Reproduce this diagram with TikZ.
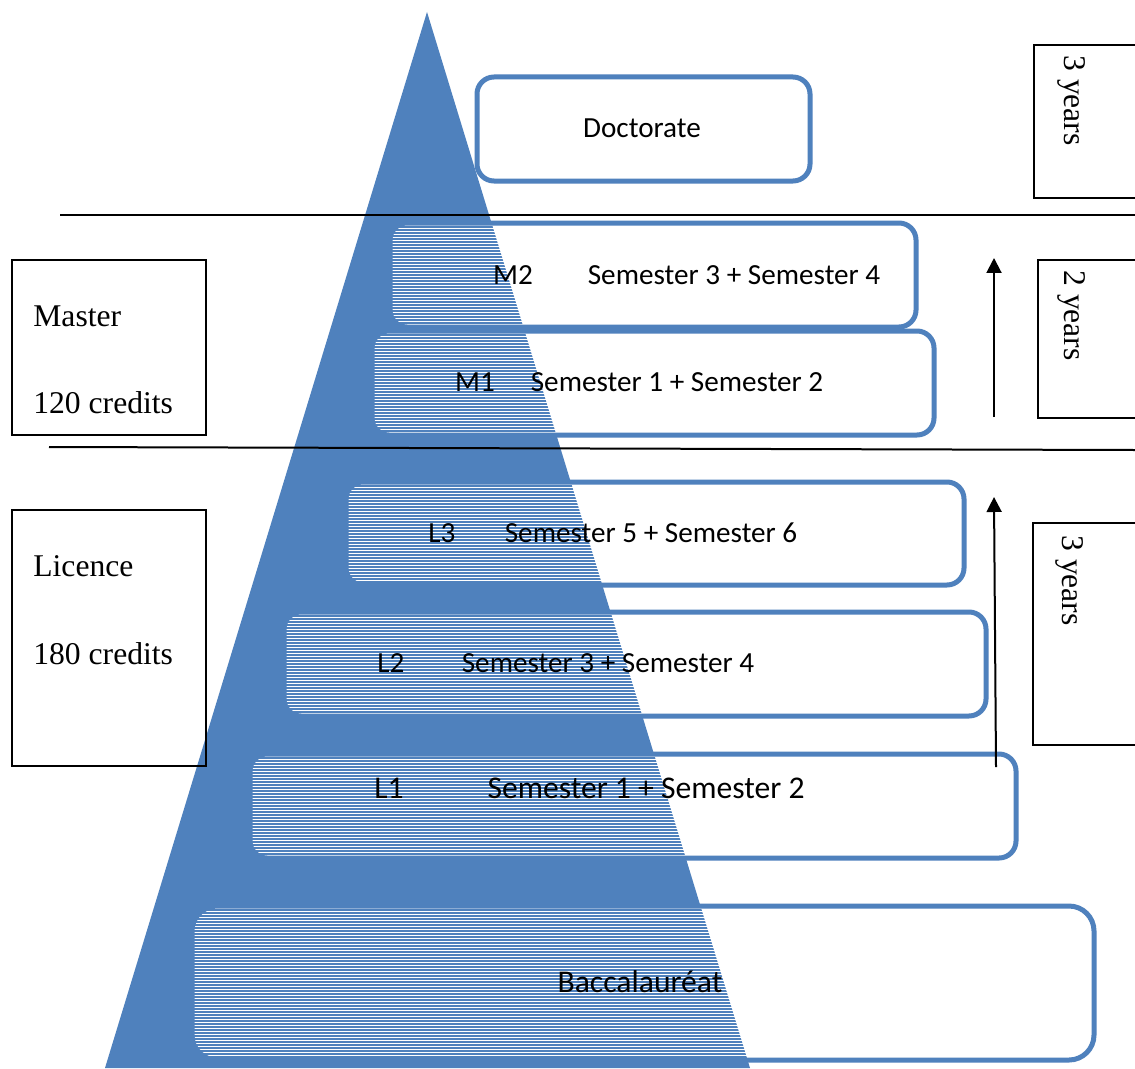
\documentclass[tikz,border=0pt]{standalone}
\usepackage{fontspec}
\setmainfont{Liberation Serif}
\newfontfamily\boxfont{Carlito}
\usetikzlibrary{arrows.meta}
\definecolor{lmdblue}{HTML}{4F81BD}

\tikzset{
  pyramid/.style={fill=lmdblue, draw=none},
  levelframe/.style={draw=lmdblue, line width=0.1cm},
  stripe/.style={draw=lmdblue, line width=0.042cm},
  sidebox/.style={draw=black, line width=0.03cm},
  divider/.style={draw=black, line width=0.04cm},
  uparrow/.style={draw=black, line width=0.04cm, -{Triangle[length=0.3cm,width=0.3cm]}},
  boxtext/.style={font=\boxfont\fontsize{16.6}{20}\selectfont, inner sep=0pt},
  bigboxtext/.style={font=\boxfont\fontsize{18}{22}\selectfont, inner sep=0pt},
  sidetext/.style={font=\fontsize{18}{22}\selectfont, inner sep=0pt, anchor=west},
  yeartext/.style={font=\fontsize{18}{22}\selectfont, inner sep=0pt, rotate=-90, anchor=west},
}

% rounded level box: white inside, hatched where it lies over the pyramid
% #1 name, #2 x1, #3 y1, #4 x2, #5 y2, #6 corner radius
\newcommand{\levelbox}[6]{%
  \fill[white, rounded corners=#6] (#2,#3) rectangle (#4,#5);
  \begin{scope}
    \clip (427,12) -- (105,1068) -- (750,1068) -- cycle;
    \clip[rounded corners=#6] (#2,#3) rectangle (#4,#5);
    \foreach \k in {0,...,53} \draw[stripe] (#2,{#3+1+3*\k}) -- (#4,{#3+1+3*\k});
  \end{scope}
  \draw[levelframe, rounded corners=#6] (#2,#3) rectangle (#4,#5);
  \coordinate (#1) at ({(#2+#4)/2},{(#3+#5)/2});
}

\begin{document}
\begin{tikzpicture}[x=0.02cm, y=-0.02cm]
\clip (0,0) rectangle (1135,1068);
\fill[white] (0,0) rectangle (1135,1068);

% pyramid
\path[pyramid] (427,12) -- (105,1068) -- (750,1068) -- cycle;

% levels
\levelbox{doc}{477}{77}{810}{181}{0.34cm}
\levelbox{mtwo}{390}{223}{916}{327}{0.34cm}
\levelbox{mone}{372}{331}{934}{435}{0.34cm}
\levelbox{lthree}{346}{482}{964}{585}{0.34cm}
\levelbox{ltwo}{284}{612}{986}{716}{0.34cm}
\levelbox{lone}{250}{754}{1016}{858}{0.34cm}
\levelbox{bac}{192}{906}{1094}{1060}{0.5cm}

% level labels
\node[boxtext] (doctxt) at (642,128) {Doctorate};
\node[boxtext] (m2) at (513,275) {M2};
\node[boxtext] (m2sem) at (734,275) {Semester 3 + Semester 4};
\node[boxtext] (m1) at (475,382) {M1};
\node[boxtext] (m1sem) at (677,382) {Semester 1 + Semester 2};
\node[boxtext] (l3) at (442,533) {L3};
\node[boxtext] (l3sem) at (651,533) {Semester 5 + Semester 6};
\node[boxtext] (l2) at (391,663) {L2};
\node[boxtext] (l2sem) at (608,663) {Semester 3 + Semester 4};
\node[bigboxtext] (l1) at (389,788) {L1};
\node[bigboxtext] (l1sem) at (646,788) {Semester 1 + Semester 2};
\node[bigboxtext] (bactxt) at (640,982) {Baccalauréat};

% dividers
\coordinate (divAl) at (60,215);
\coordinate (divAr) at (1135,215);
\coordinate (divBl) at (49,447);
\coordinate (divBr) at (1135,450);
\draw[divider] (divAl) -- (divAr);
\draw[divider] (divBl) -- (divBr);

% degree boxes on the left
\draw[sidebox] (12,260) rectangle (206,435);
\node[sidetext] (master) at (33,316) {Master};
\node[sidetext] (mcred) at (33,403) {120 credits};
\draw[sidebox] (12,510) rectangle (206,766);
\node[sidetext] (licence) at (33,566) {Licence};
\node[sidetext] (lcred) at (33,654) {180 credits};

% duration boxes on the right
\draw[sidebox] (1034,45) rectangle (1150,198);
\node[yeartext] (yd) at (1072,55) {3 years};
\draw[sidebox] (1038,260) rectangle (1150,418);
\node[yeartext] (ym) at (1072,270) {2 years};
\draw[sidebox] (1033,523) rectangle (1150,745);
\node[yeartext] (yl) at (1070,535) {3 years};

% progression arrows
\coordinate (mA) at (994,417);
\coordinate (mB) at (994,258);
\coordinate (lA) at (996,767);
\coordinate (lB) at (994,497);
\draw[uparrow] (mA) -- (mB);
\draw[uparrow] (lA) -- (lB);
\end{tikzpicture}
\end{document}
